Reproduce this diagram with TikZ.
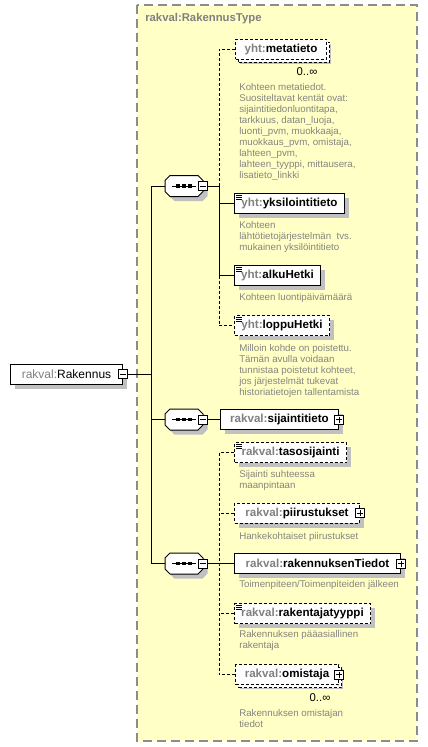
\documentclass[tikz,border=0pt]{standalone}
\usepackage{fontspec}
\setmainfont{Liberation Sans}
\usetikzlibrary{shadows}
\definecolor{TypeYellow}{HTML}{FFFFC6}
\definecolor{TypeBorder}{HTML}{8C8C8C}
\definecolor{PrefixGray}{HTML}{808080}
\definecolor{NoteGray}{HTML}{858580}
\definecolor{ShadowGray}{HTML}{C0C0C0}
\newcommand{\pfx}[1]{\textcolor{PrefixGray}{#1:}}
\tikzset{
  elem/.style={draw,fill=white,line width=.75pt,anchor=west,minimum width=#1*0.75pt,
    minimum height=15pt,inner sep=0pt,font=\fontsize{8.7}{10}\selectfont\bfseries,
    drop shadow={shadow xshift=3.5pt,shadow yshift=-3.5pt,opacity=1,fill=ShadowGray}},
  opt/.style={dash pattern=on 2.25pt off 1.5pt},
  many/.style={copy shadow={shadow xshift=2.25pt,shadow yshift=-2.25pt,fill=white,draw=black,
    dash pattern=on 2.25pt off 1.5pt}},
  simple/.style={path picture={
    \foreach \d in {1.5,3.5,5.5}
      \draw[solid,line width=.6pt] ([shift={(1.5,\d)}]path picture bounding box.north west) -- ++(6,0);}},
  pmbox/.style={draw,solid,fill=white,line width=.6pt,minimum size=6.75pt,inner sep=0pt},
  minus/.style={pmbox,path picture={
    \draw[line width=.6pt] (path picture bounding box.center) +(-3,0) -- +(3,0);}},
  plus/.style={pmbox,path picture={
    \draw[line width=.6pt] (path picture bounding box.center) +(-3,0) -- +(3,0) +(0,-3) -- +(0,3);}},
  seq/.style={minimum width=28.5pt,minimum height=15.75pt,inner sep=0pt},
  octagon/.style={insert path={+(-19,-5.5) -- +(-14,-10.5) -- +(14,-10.5) -- +(19,-5.5)
    -- +(19,5.5) -- +(14,10.5) -- +(-14,10.5) -- +(-19,5.5) -- cycle}},
  note/.style={anchor=north west,inner sep=0pt,align=left,text=NoteGray,
    font=\fontsize{7.3}{8.2}\selectfont},
  card/.style={font=\fontsize{8.5}{10}\selectfont},
  conn/.style={line width=.75pt}
}
\begin{document}
\begin{tikzpicture}[x=.75pt,y=-.75pt]
  \useasboundingbox (0,0) rectangle (428,747);
  \draw[fill=TypeYellow,draw=TypeBorder,line width=1.1pt,dash pattern=on 6.75pt off 3.75pt]
    (137,5) rectangle (417,741);
  \node[anchor=west,inner sep=0pt,text=PrefixGray,font=\fontsize{8.5}{10}\selectfont\bfseries]
    (typename) at (145,19) {rakval:RakennusType};

  \node[elem=112,font=\fontsize{9}{10}\selectfont] (rakennus) at (10,374) {\pfx{rakval}Rakennus\hspace{4pt}};
  \node[minus] (rakennusminus) at (rakennus.east) {};
  \coordinate (trunk) at (151,374);

  \foreach \s/\y in {seq1/186,seq2/419.5,seq3/563.5}{
    \node[seq] (\s) at (184,\y) {};
    \fill[ShadowGray] ([shift={(4.5,4.5)}]\s.center) [octagon];
    \filldraw[fill=white,line width=.75pt] (\s.center) [octagon];
    \draw[line width=.75pt] (\s.center) +(-12,0) -- +(12,0);
    \foreach \d in {-6,0,6}
      \fill ([xshift=\d*0.75pt]\s.center) +(-1.6,-1.6) rectangle +(1.6,1.6);
    \node[minus] (\s minus) at (\s.east) {};
  }
  \coordinate (br1) at (219,186);
  \coordinate (br3) at (219,563.5);

  \node[elem=91,opt,many] (metatieto) at (235,49) {\pfx{yht}metatieto};
  \node[card] (metatietomax) at (307,72) {0..∞};
  \node[note] (metatietonote) at (239,83.5) {Kohteen metatiedot.\\Suositeltavat kentät ovat:\\
    sijaintitiedonluontitapa,\\tarkkuus, datan\_luoja,\\luonti\_pvm, muokkaaja,\\
    muokkaus\_pvm, omistaja,\\lahteen\_pvm,\\lahteen\_tyyppi, mittausera,\\lisatieto\_linkki};
  \node[elem=110,simple] (yksilointitieto) at (234,203.5) {\pfx{yht}yksilointitieto};
  \node[note] (yksilointitietonote) at (239,221.5) {Kohteen\\lähtötietojärjestelmän~ tvs.\\mukainen yksilöintitieto};
  \node[elem=86,simple] (alkuHetki) at (234,275.5) {\pfx{yht}alkuHetki};
  \node[note] (alkuHetkinote) at (239,293.5) {Kohteen luontipäivämäärä};
  \node[elem=95,opt,simple] (loppuHetki) at (234,325.5) {\pfx{yht}loppuHetki};
  \node[note] (loppuHetkinote) at (239,344.5) {Milloin kohde on poistettu.\\Tämän avulla voidaan\\
    tunnistaa poistetut kohteet,\\jos järjestelmät tukevat\\historiatietojen tallentamista};

  \node[elem=118] (sijaintitieto) at (220,419.5) {\pfx{rakval}sijaintitieto\hspace{6pt}};
  \node[plus] (sijaintitietoplus) at (sijaintitieto.east) {};

  \node[elem=112,opt,simple] (tasosijainti) at (234,452.5) {\pfx{rakval}tasosijainti};
  \node[note] (tasosijaintinote) at (239,470.5) {Sijainti suhteessa\\maanpintaan};
  \node[elem=125,opt] (piirustukset) at (234,513) {\pfx{rakval}piirustukset\hspace{6pt}};
  \node[plus] (piirustuksetplus) at (piirustukset.east) {};
  \node[note] (piirustuksetnote) at (239,532.5) {Hankekohtaiset piirustukset};
  \node[elem=166] (rakennuksenTiedot) at (234,563.5) {\pfx{rakval}rakennuksenTiedot\hspace{6pt}};
  \node[plus] (rakennuksenTiedotplus) at (rakennuksenTiedot.east) {};
  \node[note] (rakennuksenTiedotnote) at (239,580.5) {Toimenpiteen/Toimenpiteiden jälkeen};
  \node[elem=136,opt,simple] (rakentajatyyppi) at (234,613.5) {\pfx{rakval}rakentajatyyppi};
  \node[note] (rakentajatyyppinote) at (239,630.5) {Rakennuksen pääasiallinen\\rakentaja};
  \node[elem=103,opt,many] (omistaja) at (235,674.5) {\pfx{rakval}omistaja\hspace{6pt}};
  \node[plus] (omistajaplus) at (omistaja.east) {};
  \node[card] (omistajamax) at (320,698) {0..∞};
  \node[note] (omistajanote) at (239,709.5) {Rakennuksen omistajan\\tiedot};

  \draw[conn] (rakennusminus.east) -- (trunk);
  \draw[conn] (seq1.west) -- (seq1.west -| trunk) -- (seq3.west -| trunk) -- (seq3.west);
  \draw[conn] (seq2.west) -- (seq2.west -| trunk);
  \draw[conn] (seq1minus.east) -- (br1);
  \draw[conn,opt] (metatieto.west) -| (br1);
  \draw[conn] (yksilointitieto.west) -- (yksilointitieto.west -| br1);
  \draw[conn] (br1) |- (alkuHetki.west);
  \draw[conn,opt] (alkuHetki.west -| br1) |- (loppuHetki.west);
  \draw[conn] (seq2minus.east) -- (sijaintitieto.west);
  \draw[conn] (seq3minus.east) -- (rakennuksenTiedot.west);
  \draw[conn,opt] (tasosijainti.west) -| (br3) |- (omistaja.west);
  \draw[conn,opt] (piirustukset.west) -- (piirustukset.west -| br3);
  \draw[conn,opt] (rakentajatyyppi.west) -- (rakentajatyyppi.west -| br3);
\end{tikzpicture}
\end{document}
